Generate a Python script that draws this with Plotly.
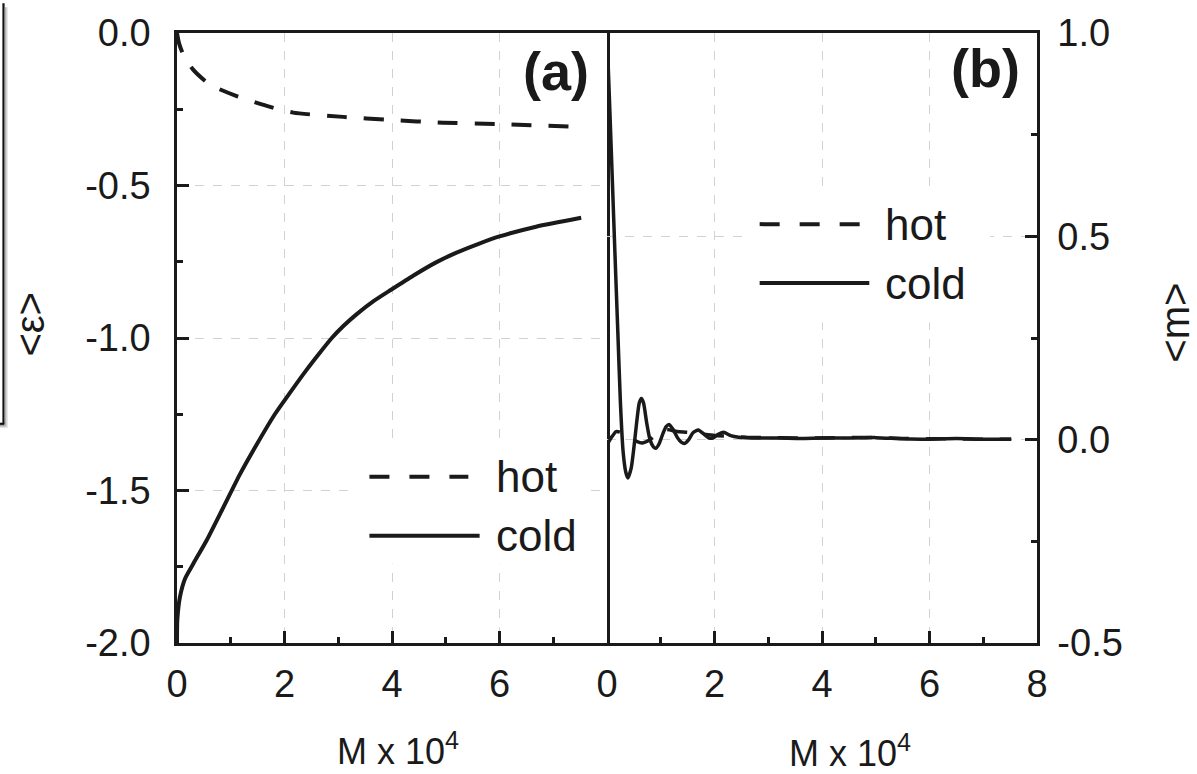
import plotly.graph_objects as go

# ---- panel (a): mean energy <eps> versus M (x 10^4) ----
eps_hot_x = [0, 0.04, 0.12, 0.30, 0.61, 1.11, 1.67, 2.16, 3.09, 3.96, 4.95, 6.0, 7.52]
eps_hot = [0.0, -0.035, -0.072, -0.120, -0.169, -0.207, -0.239, -0.261, -0.275, -0.285, -0.294, -0.299, -0.308]

eps_cold_x = [0, 0.006, 0.056, 0.149, 0.303, 0.55, 0.86, 1.17, 1.48, 1.82, 2.10, 2.40, 2.65, 2.88,
              3.10, 3.35, 3.65, 3.99, 4.40, 4.82, 5.19, 5.60, 6.0, 6.68, 7.52]
eps_cold = [-2.0, -1.924, -1.848, -1.789, -1.740, -1.664, -1.556, -1.447, -1.350, -1.250, -1.180, -1.107,
            -1.050, -1.0, -0.960, -0.921, -0.880, -0.841, -0.795, -0.752, -0.721, -0.692, -0.667, -0.635, -0.606]

# ---- panel (b): mean magnetisation <m> versus M (x 10^4) ----
m_hot_x = [0, 0.08, 0.17, 0.25, 0.35, 0.45, 0.55, 0.65, 0.80, 0.95, 1.10, 1.30, 1.50, 1.75,
           2.0, 2.3, 2.6, 3.0, 3.5, 4.0, 4.5, 5.0, 5.5, 6.0, 6.5, 7.0, 7.52]
m_hot = [-0.013, 0.005, 0.020, 0.018, 0.008, 0.003, -0.004, -0.008, 0.0, 0.015, 0.025, 0.020, 0.018, 0.014,
         0.010, 0.008, 0.006, 0.005, 0.004, 0.004, 0.005, 0.005, 0.003, 0.002, 0.002, 0.001, 0.001]

m_cold_x = [0, 0.05, 0.10, 0.15, 0.20, 0.25, 0.30, 0.35, 0.39, 0.45, 0.50, 0.55, 0.60, 0.64, 0.68,
            0.74, 0.80, 0.86, 0.91, 0.97, 1.04, 1.10, 1.16, 1.23, 1.31, 1.38, 1.45, 1.52, 1.60,
            1.70, 1.80, 1.90, 1.97, 2.07, 2.17, 2.30, 2.45, 2.8, 3.2, 3.6, 4.0, 4.5, 5.0, 5.5,
            6.0, 6.5, 7.0, 7.52]
m_cold = [1.0, 0.82, 0.635, 0.45, 0.27, 0.09, -0.03, -0.08, -0.094, -0.07, -0.02, 0.04, 0.09, 0.101, 0.09,
          0.04, 0.0, -0.017, -0.021, -0.01, 0.015, 0.032, 0.037, 0.025, 0.005, -0.006, -0.009, 0.0, 0.017,
          0.024, 0.014, 0.004, 0.004, 0.013, 0.018, 0.010, 0.006, 0.004, 0.004, 0.003, 0.004, 0.004, 0.005, 0.002,
          0.001, 0.003, 0.001, 0.001]

x_ticks_a = [0, 2, 4, 6]
x_ticks_b = [0, 2, 4, 6, 8]
x_minor = [1, 3, 5, 7]
y_ticks_a = [-2.0, -1.5, -1.0, -0.5, 0.0]
y_minor_a = [-1.75, -1.25, -0.75, -0.25]
y_ticks_b = [-0.5, 0.0, 0.5, 1.0]
y_minor_b = [-0.25, 0.25, 0.75]

FONT = "Liberation Sans, Arial, Helvetica, sans-serif"
INK = "#1a1a1a"
GRID = "#d2d2d2"
DASH = "20px,17px"

fig = go.Figure()

fig.add_trace(go.Scatter(x=eps_hot_x, y=eps_hot, mode="lines", xaxis="x", yaxis="y",
                         line=dict(color=INK, width=4, dash=DASH, shape="spline", smoothing=0.6)))
fig.add_trace(go.Scatter(x=eps_cold_x, y=eps_cold, mode="lines", xaxis="x", yaxis="y",
                         line=dict(color=INK, width=4, shape="spline", smoothing=0.6)))
fig.add_trace(go.Scatter(x=m_hot_x, y=m_hot, mode="lines", xaxis="x2", yaxis="y2",
                         line=dict(color=INK, width=3.5, dash=DASH, shape="spline", smoothing=0.6)))
fig.add_trace(go.Scatter(x=m_cold_x, y=m_cold, mode="lines", xaxis="x2", yaxis="y2",
                         line=dict(color=INK, width=3.5, shape="spline", smoothing=0.6)))

tick_font = dict(family=FONT, size=38, color=INK)

common_axis = dict(showline=True, linecolor=INK, linewidth=2.5,
                   ticks="inside", ticklen=12, tickwidth=2.5, tickcolor=INK,
                   showgrid=True, gridcolor=GRID, gridwidth=1, griddash="dash",
                   zeroline=False, tickfont=tick_font, fixedrange=True)

fig.update_layout(
    width=1197, height=774,
    margin=dict(l=177, r=160, t=28, b=131),
    paper_bgcolor="white", plot_bgcolor="white",
    showlegend=False,
    xaxis=dict(domain=[0, 0.5], range=[0, 8], anchor="y", mirror=True, tickmode="array",
               tickvals=x_ticks_a, ticktext=[str(v) for v in x_ticks_a], ticklabelstandoff=6,
               minor=dict(tickmode="array", tickvals=x_minor, ticks="inside", ticklen=6,
                          tickwidth=2.5, tickcolor=INK, showgrid=False),
               **common_axis),
    xaxis2=dict(domain=[0.5, 1], range=[0, 8], anchor="y2", mirror=True, tickmode="array",
                tickvals=x_ticks_b, ticktext=[str(v) for v in x_ticks_b], ticklabelstandoff=6,
                minor=dict(tickmode="array", tickvals=x_minor, ticks="inside", ticklen=6,
                           tickwidth=2.5, tickcolor=INK, showgrid=False),
                **common_axis),
    # the left axis mirrors its line onto the shared middle border
    yaxis=dict(range=[-2, 0], anchor="x", mirror=True, tickmode="array", tickvals=y_ticks_a,
               ticktext=[f"{v:.1f}" for v in y_ticks_a], ticklabelstandoff=16,
               minor=dict(tickmode="array", tickvals=y_minor_a, ticks="inside", ticklen=6,
                          tickwidth=2.5, tickcolor=INK, showgrid=False),
               **common_axis),
    yaxis2=dict(range=[-0.5, 1.0], anchor="x2", side="right", mirror=False, tickmode="array",
                tickvals=y_ticks_b, ticktext=[f"{v:.1f}" for v in y_ticks_b], ticklabelstandoff=10,
                minor=dict(tickmode="array", tickvals=y_minor_b, ticks="inside", ticklen=6,
                           tickwidth=2.5, tickcolor=INK, showgrid=False),
                **common_axis),
)

shapes = []
# legend backgrounds hide the grid behind the keys
shapes.append(dict(type="rect", xref="x", yref="y", x0=3.25, x1=7.67, y0=-1.739, y1=-1.339,
                   fillcolor="white", line=dict(width=0), layer="above"))
shapes.append(dict(type="rect", xref="x2", yref="y2", x0=2.54, x1=7.13, y0=0.288, y1=0.617,
                   fillcolor="white", line=dict(width=0), layer="above"))
# legend keys, panel (a)
shapes.append(dict(type="line", xref="x", yref="y", x0=3.58, x1=5.42, y0=-1.455, y1=-1.455,
                   line=dict(color=INK, width=4, dash="20px,20px"), layer="above"))
shapes.append(dict(type="line", xref="x", yref="y", x0=3.58, x1=5.63, y0=-1.648, y1=-1.648,
                   line=dict(color=INK, width=4), layer="above"))
# legend keys, panel (b)
shapes.append(dict(type="line", xref="x2", yref="y2", x0=2.84, x1=4.71, y0=0.530, y1=0.530,
                   line=dict(color=INK, width=4, dash="20px,20px"), layer="above"))
shapes.append(dict(type="line", xref="x2", yref="y2", x0=2.84, x1=4.88, y0=0.385, y1=0.385,
                   line=dict(color=INK, width=4), layer="above"))


def px_x(p):
    return (p - 177) / 860.0


def px_y(p):
    return (643 - p) / 615.0


# edge of a neighbouring frame at the far left, with its soft shadow
shapes.append(dict(type="line", xref="paper", yref="paper", x0=px_x(3.5), x1=px_x(3.5),
                   y0=px_y(-2), y1=px_y(422), line=dict(color="#111111", width=2.2)))
shapes.append(dict(type="line", xref="paper", yref="paper", x0=px_x(-3), x1=px_x(4.5),
                   y0=px_y(422), y1=px_y(422), line=dict(color="#111111", width=2.2)))
for off, col in [(1.8, "#9a9a9a"), (2.8, "#c4c4c4"), (3.8, "#e2e2e2")]:
    shapes.append(dict(type="line", xref="paper", yref="paper", x0=px_x(3.5 + off), x1=px_x(3.5 + off),
                       y0=px_y(2), y1=px_y(422 + off), line=dict(color=col, width=1)))
    shapes.append(dict(type="line", xref="paper", yref="paper", x0=px_x(-3), x1=px_x(3.5 + off),
                       y0=px_y(422 + off), y1=px_y(422 + off), line=dict(color=col, width=1)))

fig.update_layout(shapes=shapes)

ann = []
legend_font = dict(family=FONT, size=44, color=INK)
ann.append(dict(xref="x", yref="y", x=5.90, y=-1.455, text="hot", showarrow=False,
                xanchor="left", yanchor="middle", font=legend_font))
ann.append(dict(xref="x", yref="y", x=5.90, y=-1.648, text="cold", showarrow=False,
                xanchor="left", yanchor="middle", font=legend_font))
ann.append(dict(xref="x2", yref="y2", x=5.14, y=0.530, text="hot", showarrow=False,
                xanchor="left", yanchor="middle", font=legend_font))
ann.append(dict(xref="x2", yref="y2", x=5.14, y=0.385, text="cold", showarrow=False,
                xanchor="left", yanchor="middle", font=legend_font))

panel_font = dict(family=FONT, size=54, color=INK)
ann.append(dict(xref="x", yref="y", x=7.05, y=-0.125, text="<b>(a)</b>", showarrow=False,
                xanchor="center", yanchor="middle", font=panel_font))
ann.append(dict(xref="x2", yref="y2", x=7.04, y=0.915, text="<b>(b)</b>", showarrow=False,
                xanchor="center", yanchor="middle", font=panel_font))

title_font = dict(family=FONT, size=36, color=INK)
ann.append(dict(xref="paper", yref="paper", x=px_x(398), y=px_y(750), text="M x 10<sup>4</sup>",
                showarrow=False, xanchor="center", yanchor="middle", font=title_font))
ann.append(dict(xref="paper", yref="paper", x=px_x(850), y=px_y(752), text="M x 10<sup>4</sup>",
                showarrow=False, xanchor="center", yanchor="middle", font=title_font))
ann.append(dict(xref="paper", yref="paper", x=px_x(30), y=px_y(322), text="&lt;ε&gt;",
                showarrow=False, xanchor="center", yanchor="middle", textangle=-90,
                font=dict(family=FONT, size=40, color=INK)))
ann.append(dict(xref="paper", yref="paper", x=px_x(1175), y=px_y(320), text="&lt;m&gt;",
                showarrow=False, xanchor="center", yanchor="middle", textangle=-90,
                font=dict(family=FONT, size=40, color=INK)))

fig.update_layout(annotations=ann)

fig.write_html("out.html")
